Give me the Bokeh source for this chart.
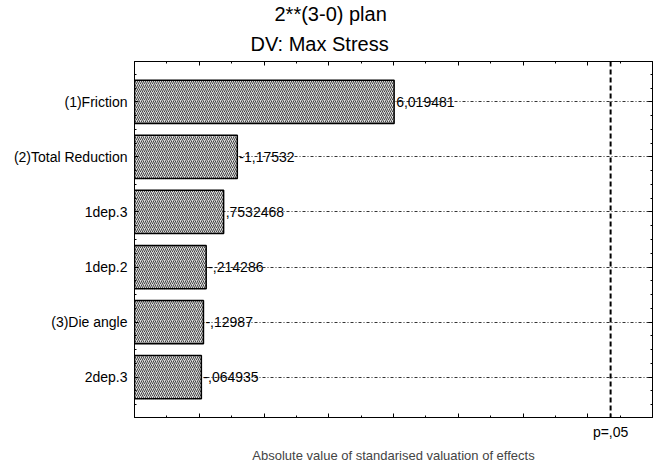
import re
from bokeh.plotting import figure
from bokeh.models import (Range1d, FixedTicker, LinearAxis, Span, Title,
                          CustomJSTickFormatter, ColumnDataSource)
from bokeh.embed import file_html
from bokeh.resources import INLINE
from bokeh.core.properties import value

# ---- data ----
effects_names = ["(1)Friction", "(2)Total Reduction", "1dep.3", "1dep.2",
                 "(3)Die angle", "2dep.3"]
effects_values = [6.019481, -1.17532, 0.7532468, -0.214286, -0.12987, -0.064935]
p_critical = 12.706
p_label = "p=,05"
x_major_ticks = [-2, 0, 2, 4, 6, 8, 10, 12, 14]
x_minor_ticks = [-1, 1, 3, 5, 7, 9, 11, 13]
title_lines = ["2**(3-0) plan", "DV: Max Stress"]
x_title = "Absolute value of standarised valuation of effects"

FONT = "Liberation Sans"


def fmt(v):
    s = re.sub(r'^(-?)0\.', r'\1.', str(v))
    return s.replace('.', ',')


ypos = list(range(len(effects_names)))
absvals = [abs(v) for v in effects_values]
src = ColumnDataSource(dict(y=ypos, right=absvals, left=[x_major_ticks[0]] * len(ypos),
                            lab=[fmt(v) for v in effects_values]))

p = figure(frame_width=518, frame_height=356, output_backend="svg",
           toolbar_location=None, x_range=Range1d(-2, 14),
           y_range=Range1d(5.735, -0.735), x_axis_location=None,
           y_axis_location=None, min_border_left=134, min_border_right=2,
           min_border_top=0, min_border_bottom=0)
p.background_fill_color = "white"
p.border_fill_color = "white"
p.outline_line_color = "black"
p.xgrid.visible = False

cat_ticks = FixedTicker(ticks=ypos,
                        minor_ticks=[i * 0.25 - 0.5 for i in range(4 * len(ypos) + 1)])
p.ygrid.ticker = cat_ticks
p.ygrid.grid_line_color = "#333333"
p.ygrid.grid_line_dash = "3 2 1 2"
p.ygrid.grid_line_width = 1


def style_axis(ax):
    ax.axis_line_color = "black"
    ax.major_tick_in = 4
    ax.major_tick_out = 0
    ax.minor_tick_in = 2
    ax.minor_tick_out = 0
    ax.major_tick_line_color = "black"
    ax.minor_tick_line_color = "black"
    ax.major_label_text_font = FONT
    ax.major_label_text_font_size = "14px"
    ax.major_label_text_color = "black"


left = LinearAxis(ticker=cat_ticks,
                  major_label_overrides={i: n for i, n in enumerate(effects_names)})
style_axis(left)
left.major_label_standoff = 7
p.add_layout(left, "left")

right = LinearAxis(ticker=cat_ticks, formatter=CustomJSTickFormatter(code="return ''"))
style_axis(right)
right.major_label_standoff = 0
right.major_label_text_font_size = "0px"
p.add_layout(right, "right")

xt = FixedTicker(ticks=x_major_ticks, minor_ticks=x_minor_ticks)
top = LinearAxis(ticker=xt, formatter=CustomJSTickFormatter(code="return ''"))
style_axis(top)
top.major_label_standoff = 0
top.major_label_text_font_size = "0px"
p.add_layout(top, "above")

bt = FixedTicker(ticks=x_major_ticks + [p_critical], minor_ticks=x_minor_ticks)
bottom = LinearAxis(ticker=bt, formatter=CustomJSTickFormatter(
    code="return Math.abs(tick - %r) < 1e-6 ? %r : '';" % (p_critical, p_label)))
style_axis(bottom)
bottom.major_label_standoff = 6
bottom.axis_label = x_title
bottom.axis_label_text_font = FONT
bottom.axis_label_text_font_size = "13px"
bottom.axis_label_text_font_style = "normal"
bottom.axis_label_standoff = 5
p.add_layout(bottom, "below")

p.hbar(y="y", left="left", right="right", height=0.786, source=src,
       fill_color="#dcdcdc", line_color="black", line_width=1.5,
       hatch_pattern="/", hatch_color="#444444", hatch_scale=4, hatch_weight=1)

p.text(x="right", y="y", text="lab", source=src, x_offset=2,
       text_baseline="middle", text_align="left",
       text_font=value(FONT), text_font_size="14px", text_color="black")

p.add_layout(Span(location=p_critical, dimension="height", line_color="black",
                  line_width=2, line_dash="5 3"))

title_offsets = [140, 116]
title_standoffs = [0, 13]
for t, off, so in reversed(list(zip(title_lines, title_offsets, title_standoffs))):
    p.add_layout(Title(text=t, align="left", offset=off, text_font=FONT,
                       text_font_size="20px", text_font_style="normal",
                       text_color="black", standoff=so), "above")

open("out.html", "w").write(file_html(p, INLINE))
